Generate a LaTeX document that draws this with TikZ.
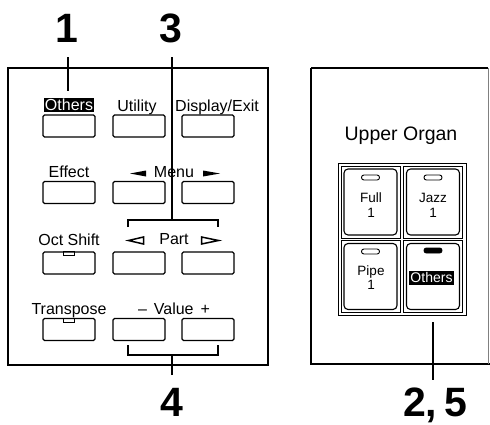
\documentclass[tikz,border=0pt]{standalone}
\usepackage{fontspec}
\setmainfont{Liberation Sans}
\begin{document}
\begin{tikzpicture}[x=1pt,y=-1pt,
  panel/.style={draw, line width=1.4pt},
  btn/.style={draw, line width=1.1pt, rounded corners=1.5pt, minimum width=52pt, minimum height=22pt, inner sep=0pt},
  lbl/.style={font=\fontsize{16}{16}\selectfont, inner sep=0pt, anchor=base},
  inv/.style={fill=black, text=white, inner sep=1.2pt, text height=11.5pt, text depth=0.6pt},
  digit/.style={font=\fontsize{41}{41}\selectfont\bfseries, inner sep=0pt, anchor=base},
  leader/.style={line width=1.2pt},
  cell/.style={draw, line width=0.8pt, minimum width=59pt, minimum height=72pt, inner sep=0pt},
  keycap/.style={draw, line width=1.1pt, rounded corners=4pt, minimum width=53pt, minimum height=66pt, inner sep=0pt},
  led/.style={draw, line width=0.9pt, rounded corners=2.4pt, minimum width=18pt, minimum height=5pt, inner sep=0pt},
  keytxt/.style={font=\fontsize{13.5}{13.5}\selectfont, inner sep=0pt, anchor=base},
  notch/.style={draw, line width=0.9pt, minimum width=11pt, minimum height=4pt, inner sep=0pt}]
\useasboundingbox (0,0) rectangle (490,424);

% ---------- left panel ----------
\draw[panel] (8,68) rectangle (268,365);

% buttons
\node[btn] (bOthers) at (69,126) {};
\node[btn] (bUtility) at (139,126) {};
\node[btn] (bDisplay) at (208,126) {};
\node[btn] (bEffect) at (69,192.5) {};
\node[btn] (bMenuL) at (139,192.5) {};
\node[btn] (bMenuR) at (208,192.5) {};
\node[btn] (bOct) at (69,263) {};
\node[btn] (bPartL) at (139,263) {};
\node[btn] (bPartR) at (208,263) {};
\node[btn] (bTrans) at (69,329.5) {};
\node[btn] (bValL) at (139,329.5) {};
\node[btn] (bValR) at (208,329.5) {};
\node[notch, anchor=north] (nOct) at (bOct.north) {};
\node[notch, anchor=north] (nTrans) at (bTrans.north) {};

% labels
\node[lbl, inv] (tOthers) at (69,110.5) {Others};
\node[lbl] (tUtility) at (137,111) {Utility};
\node[lbl] (tDisplay) at (217,111) {Display/Exit};
\node[lbl] (tEffect) at (69,177) {Effect};
\node[lbl] (tMenu) at (174,177) {Menu};
\fill (130,173.5) -- (146,170.5) -- (146,176.5) -- cycle;
\fill (220,173.5) -- (203,170.5) -- (203,176.5) -- cycle;
\node[lbl] (tOct) at (69,245) {Oct Shift};
\node[lbl] (tPart) at (174,244) {Part};
\draw[line width=1.5pt, line join=miter] (128.5,240.5) -- (143.5,237) -- (143.5,244) -- cycle;
\draw[line width=1.5pt, line join=miter] (201.5,237) -- (218.5,240.5) -- (201.5,244) -- cycle;
\node[lbl] (tTrans) at (69,314) {Transpose};
\node[lbl] (tValue) at (174,314) {–\hspace{7pt}Value\hspace{7pt}+};

% step numbers and leaders
\node[digit] (n1) at (67,42) {1};
\node[digit] (n3) at (171,42) {3};
\node[digit] (n4) at (172,416) {4};
\node[digit] (n25) at (435,416) {2,\,5};

\coordinate (c1a) at (68,57);
\coordinate (c1b) at (68,91);
\draw[leader] (c1a) -- (c1b);

\coordinate (c3a) at (172,57);
\coordinate (c3b) at (172,220);
\coordinate (br3l) at (128,227);
\coordinate (br3r) at (218,227);
\draw[leader] (c3a) -- (c3b);
\draw[leader] (br3l) |- (c3b) -| (br3r);

\coordinate (c4a) at (172,375);
\coordinate (c4b) at (172,355);
\coordinate (br4l) at (128,345);
\coordinate (br4r) at (218,345);
\draw[leader] (c4a) -- (c4b);
\draw[leader] (br4l) |- (c4b) -| (br4r);

% ---------- right panel ----------
\draw[panel] (311,68) -- (311,364) -- (490,364);
\draw[panel] (311,68) -- (488,68);
\draw[line width=0.6pt, gray] (488,68) -- (488,364);

\node[font=\fontsize{19.5}{19.5}\selectfont, inner sep=0pt, anchor=base] (tUpper) at (401,140) {Upper Organ};

\draw[line width=1pt] (338,163) rectangle (466,315);
\node[cell] (cTL) at (370.5,202) {};
\node[cell] (cTR) at (433,202) {};
\node[cell] (cBL) at (370.5,276.5) {};
\node[cell] (cBR) at (433,276.5) {};
\node[keycap] (kFull) at (cTL) {};
\node[keycap] (kJazz) at (cTR) {};
\node[keycap] (kPipe) at (cBL) {};
\node[keycap] (kOthers) at (cBR) {};

\node[led] (lFull) at (370.5,177.5) {};
\node[led] (lJazz) at (433,177.5) {};
\node[led] (lPipe) at (370.5,251.5) {};
\node[led, fill=black] (lOthers) at (433,250.5) {};

\node[keytxt] (tFull) at (371,202) {Full};
\node[keytxt] (tFull1) at (371,217) {1};
\node[keytxt] (tJazz) at (433,202) {Jazz};
\node[keytxt] (tJazz1) at (433,217) {1};
\node[keytxt] (tPipe) at (371,275) {Pipe};
\node[keytxt] (tPipe1) at (371,289) {1};
\node[keytxt, inv, text height=10.5pt, text depth=0.8pt, font=\fontsize{14}{14}\selectfont] (tOthersK) at (431.5,282.5) {Others};

\coordinate (c25a) at (433,322);
\coordinate (c25b) at (433,380);
\draw[leader] (c25a) -- (c25b);
\end{tikzpicture}
\end{document}
